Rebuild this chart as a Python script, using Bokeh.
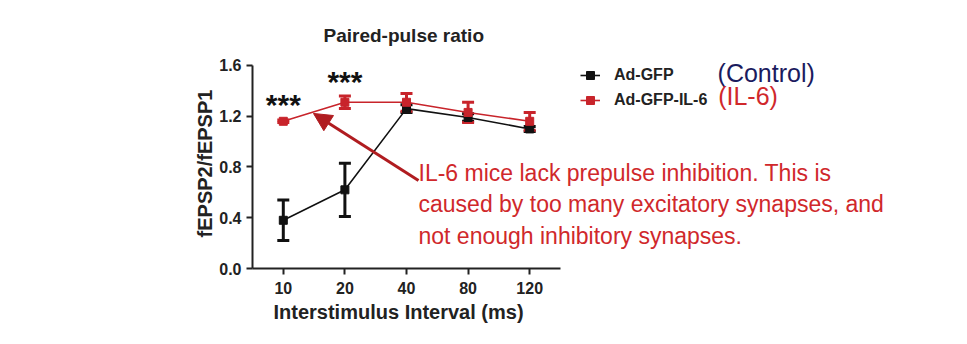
from bokeh.plotting import figure
from bokeh.models import (ColumnDataSource, Whisker, TeeHead, Label, Arrow, NormalHead,
                          Legend, LegendItem, FixedTicker, Range1d, CustomJSTickFormatter, Title)
from bokeh.embed import file_html
from bokeh.resources import INLINE

# ---- data ----
intervals = ["10", "20", "40", "80", "120"]
ctrl_mean = [0.38, 0.62, 1.26, 1.19, 1.10]
ctrl_err = [0.16, 0.21, 0.03, 0.03, 0.02]
il6_mean = [1.16, 1.31, 1.31, 1.23, 1.16]
il6_err = [0.01, 0.05, 0.07, 0.08, 0.07]
y_ticks = [0.0, 0.4, 0.8, 1.2, 1.6]
series_names = ["Ad-GFP", "Ad-GFP-IL-6"]
group_notes = ["(Control)", "(IL-6)"]
sig_marks = ["***", "***"]
sig_at = ["10", "20"]
note_lines = ["IL-6 mice lack prepulse inhibition. This is",
              "caused by too many excitatory synapses, and",
              "not enough inhibitory synapses."]

BLACK = "#111111"
RED = "#c8242b"
FONT = "Liberation Sans"

pos = list(range(len(intervals)))  # position of each interval category on the axis

p = figure(width=967, height=344, x_range=Range1d(-0.5, 10.994), y_range=Range1d(0, 1.655),
           output_backend="svg", toolbar_location=None,
           min_border_left=252, min_border_right=7, min_border_top=58, min_border_bottom=76)
p.outline_line_color = None
p.grid.grid_line_color = None
p.background_fill_color = "white"
p.border_fill_color = "white"

p.title.text = "Paired-pulse ratio"
p.title.align = "left"
p.title.offset = 71
p.title.vertical_align = "top"
p.title.text_font = FONT
p.title.text_font_style = "bold"
p.title.text_font_size = "19px"
p.title.text_color = "#222222"
p.title.standoff = 22

for ax in (p.xaxis[0], p.yaxis[0]):
    ax.axis_line_width = 2
    ax.axis_line_color = "#222222"
    ax.major_tick_line_width = 2
    ax.major_tick_line_color = "#222222"
    ax.major_tick_in = 0
    ax.major_tick_out = 6
    ax.minor_tick_line_color = None
    ax.major_label_text_font = FONT
    ax.major_label_text_font_style = "bold"
    ax.major_label_text_font_size = "16px"
    ax.major_label_text_color = "#222222"
    ax.axis_label_text_font = FONT
    ax.axis_label_text_font_style = "bold"
    ax.axis_label_text_font_size = "20px"
    ax.axis_label_text_color = "#222222"

p.yaxis.ticker = FixedTicker(ticks=y_ticks)
p.yaxis.formatter = CustomJSTickFormatter(code="return tick.toFixed(1)")
p.yaxis.bounds = (y_ticks[0], y_ticks[-1])
p.yaxis.axis_label = "fEPSP2/fEPSP1"
p.yaxis.axis_label_standoff = 0
p.yaxis.major_label_standoff = 5

p.xaxis.ticker = FixedTicker(ticks=pos)
p.xaxis.major_label_overrides = {i: lab for i, lab in zip(pos, intervals)}
p.xaxis.bounds = (pos[0] - 0.5, pos[-1] + 0.5)
p.xaxis.major_label_standoff = 7

p.add_layout(Title(text="Interstimulus Interval (ms)", align="left", offset=21, standoff=4,
                   text_font=FONT, text_font_style="bold", text_font_size="20px",
                   text_color="#222222"), "below")

src_c = ColumnDataSource(dict(x=pos, y=ctrl_mean,
                              lo=[m - e for m, e in zip(ctrl_mean, ctrl_err)],
                              hi=[m + e for m, e in zip(ctrl_mean, ctrl_err)]))
src_r = ColumnDataSource(dict(x=pos, y=il6_mean,
                              lo=[m - e for m, e in zip(il6_mean, il6_err)],
                              hi=[m + e for m, e in zip(il6_mean, il6_err)]))

def add_series(src, color):
    w = Whisker(source=src, base="x", upper="hi", lower="lo", line_color=color, line_width=3,
                upper_head=TeeHead(size=12, line_color=color, line_width=3),
                lower_head=TeeHead(size=12, line_color=color, line_width=3))
    p.add_layout(w)
    l = p.line("x", "y", source=src, line_color=color, line_width=1.6)
    s = p.scatter("x", "y", source=src, marker="square", size=8, fill_color=color, line_color=color)
    return l, s

lc, sc = add_series(src_c, BLACK)
lr, sr = add_series(src_r, RED)

legend = Legend(items=[LegendItem(label=series_names[0], renderers=[lc, sc]),
                       LegendItem(label=series_names[1], renderers=[lr, sr])],
                location=(328, 158), padding=0, spacing=5, margin=0,
                glyph_width=20, glyph_height=20, label_height=20, label_standoff=14,
                label_text_font=FONT, label_text_font_style="bold", label_text_font_size="16px",
                label_text_color="#222222", border_line_color=None, background_fill_alpha=0)
p.add_layout(legend, "center")

# significance stars
star_y = [1.16, 1.342]
for cat, mark, yy in zip(sig_at, sig_marks, star_y):
    p.add_layout(Label(x=pos[intervals.index(cat)], y=yy, text=mark, text_align="center",
                       text_font=FONT, text_font_style="bold", text_font_size="30px",
                       text_color="#111111"))

# group notes beside legend
p.add_layout(Label(x=7.05, y=1.427, text=group_notes[0], text_font=FONT,
                   text_font_size="25px", text_color="#1b1b5e"))
p.add_layout(Label(x=7.06, y=1.253, text=group_notes[1], text_font=FONT,
                   text_font_size="25px", text_color="#d0282b"))

# annotation text + arrow
for line, yy in zip(note_lines, [0.654, 0.402, 0.150]):
    p.add_layout(Label(x=2.195, y=yy, text=line, text_font=FONT, text_font_size="23px",
                       text_color="#d0282b"))
p.add_layout(Arrow(x_start=2.195, y_start=0.694, x_end=0.49, y_end=1.222,
                   line_color="#b01c20", line_width=3,
                   end=NormalHead(size=18, fill_color="#b01c20", line_color="#b01c20")))

open("out.html", "w").write(file_html(p, INLINE))
